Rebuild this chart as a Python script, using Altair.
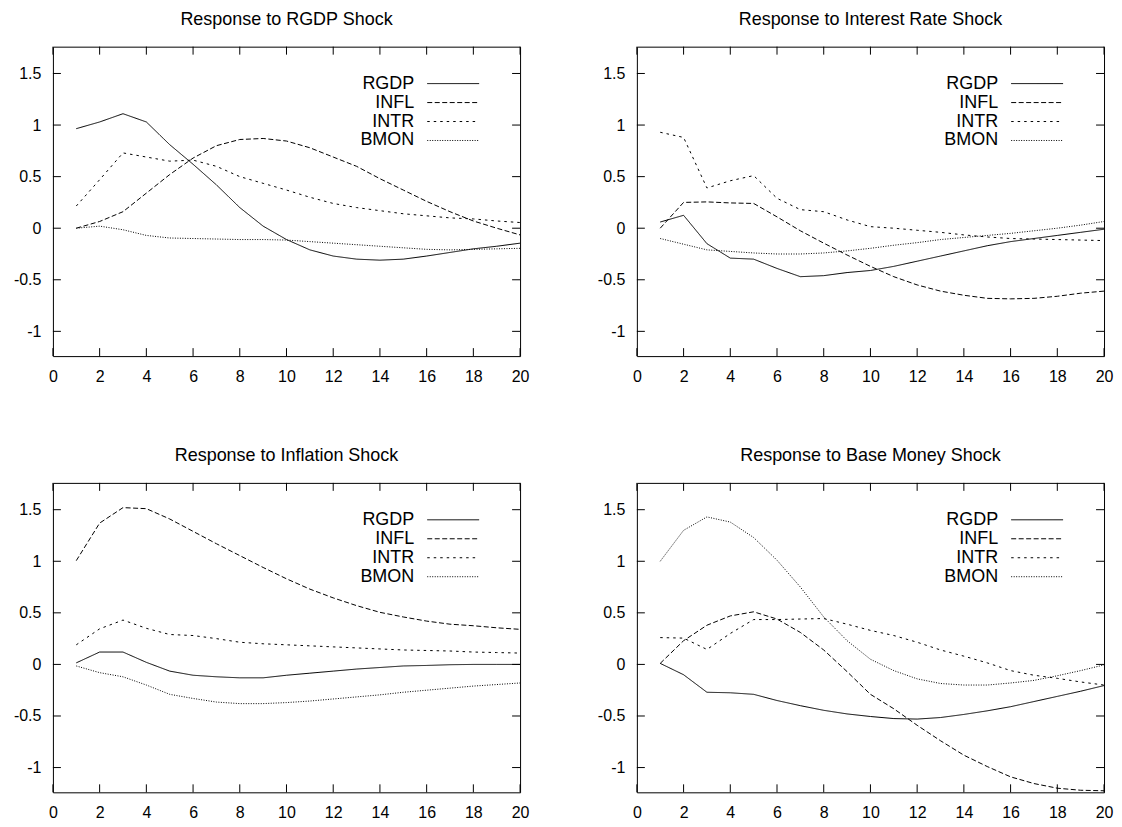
import altair as alt
import pandas as pd

# ---------------- data ----------------
periods = list(range(1, 21))
series_names = ["RGDP", "INFL", "INTR", "BMON"]
panel_titles = [
    "Response to RGDP Shock",
    "Response to Interest Rate Shock",
    "Response to Inflation Shock",
    "Response to Base Money Shock",
]
x_ticks = [0, 2, 4, 6, 8, 10, 12, 14, 16, 18, 20]
y_ticks = [-1, -0.5, 0, 0.5, 1, 1.5]

# Response to RGDP shock
rgdp_shock_rgdp = [0.965, 1.03, 1.11, 1.03, 0.81, 0.62, 0.42, 0.20, 0.02, -0.11,
                   -0.21, -0.27, -0.30, -0.31, -0.30, -0.27, -0.235, -0.20, -0.175, -0.145]
rgdp_shock_infl = [0.0, 0.065, 0.16, 0.34, 0.52, 0.68, 0.80, 0.86, 0.87, 0.845,
                   0.78, 0.69, 0.60, 0.48, 0.37, 0.26, 0.16, 0.07, 0.0, -0.065]
rgdp_shock_intr = [0.215, 0.47, 0.73, 0.69, 0.65, 0.66, 0.60, 0.50, 0.435, 0.37,
                   0.30, 0.24, 0.20, 0.17, 0.14, 0.12, 0.10, 0.09, 0.07, 0.055]
rgdp_shock_bmon = [0.0, 0.02, -0.015, -0.07, -0.095, -0.10, -0.105, -0.11, -0.11, -0.115,
                   -0.13, -0.145, -0.16, -0.175, -0.19, -0.205, -0.21, -0.205, -0.20, -0.195]

# Response to interest rate shock
intr_shock_rgdp = [0.06, 0.125, -0.15, -0.29, -0.30, -0.39, -0.47, -0.46, -0.43, -0.41,
                   -0.37, -0.32, -0.27, -0.22, -0.17, -0.13, -0.10, -0.07, -0.04, -0.01]
intr_shock_infl = [0.0, 0.25, 0.255, 0.245, 0.24, 0.11, -0.025, -0.145, -0.26, -0.37,
                   -0.47, -0.55, -0.61, -0.65, -0.68, -0.685, -0.68, -0.66, -0.63, -0.61]
intr_shock_intr = [0.93, 0.88, 0.39, 0.46, 0.51, 0.29, 0.18, 0.16, 0.08, 0.015,
                   0.0, -0.02, -0.04, -0.065, -0.085, -0.10, -0.105, -0.11, -0.115, -0.12]
intr_shock_bmon = [-0.10, -0.155, -0.21, -0.225, -0.24, -0.25, -0.25, -0.24, -0.22, -0.195,
                   -0.165, -0.14, -0.11, -0.09, -0.07, -0.05, -0.025, 0.0, 0.03, 0.065]

# Response to inflation shock
infl_shock_rgdp = [0.015, 0.12, 0.12, 0.02, -0.065, -0.105, -0.12, -0.13, -0.13, -0.105,
                   -0.085, -0.065, -0.045, -0.03, -0.015, -0.01, -0.003, 0.0, 0.0, 0.0]
infl_shock_infl = [1.006, 1.37, 1.52, 1.51, 1.41, 1.29, 1.17, 1.055, 0.94, 0.83,
                   0.73, 0.645, 0.57, 0.505, 0.46, 0.42, 0.39, 0.375, 0.355, 0.34]
infl_shock_intr = [0.19, 0.345, 0.43, 0.35, 0.29, 0.28, 0.25, 0.215, 0.20, 0.19,
                   0.18, 0.17, 0.16, 0.15, 0.14, 0.135, 0.13, 0.12, 0.115, 0.11]
infl_shock_bmon = [-0.015, -0.08, -0.12, -0.20, -0.29, -0.33, -0.365, -0.38, -0.38, -0.37,
                   -0.355, -0.335, -0.315, -0.295, -0.27, -0.25, -0.23, -0.21, -0.195, -0.18]

# Response to base money shock
bmon_shock_rgdp = [0.01, -0.10, -0.27, -0.275, -0.29, -0.35, -0.40, -0.445, -0.48, -0.505,
                   -0.525, -0.53, -0.515, -0.485, -0.45, -0.41, -0.36, -0.31, -0.26, -0.205]
bmon_shock_infl = [0.01, 0.23, 0.38, 0.47, 0.51, 0.44, 0.31, 0.14, -0.07, -0.29,
                   -0.43, -0.59, -0.74, -0.88, -0.99, -1.09, -1.155, -1.20, -1.22, -1.225]
bmon_shock_intr = [0.26, 0.255, 0.145, 0.30, 0.435, 0.435, 0.44, 0.445, 0.39, 0.33,
                   0.28, 0.215, 0.14, 0.08, 0.015, -0.06, -0.105, -0.135, -0.17, -0.20]
bmon_shock_bmon = [1.0, 1.30, 1.43, 1.38, 1.23, 1.01, 0.75, 0.46, 0.23, 0.05,
                   -0.06, -0.14, -0.185, -0.20, -0.20, -0.18, -0.155, -0.11, -0.06, -0.005]

panel_data = [
    [rgdp_shock_rgdp, rgdp_shock_infl, rgdp_shock_intr, rgdp_shock_bmon],
    [intr_shock_rgdp, intr_shock_infl, intr_shock_intr, intr_shock_bmon],
    [infl_shock_rgdp, infl_shock_infl, infl_shock_intr, infl_shock_bmon],
    [bmon_shock_rgdp, bmon_shock_infl, bmon_shock_intr, bmon_shock_bmon],
]

# ---------------- style / layout ----------------
W, H = 468, 310
FONT = "Liberation Sans"
dashes = [[1, 0], [5, 2.5], [2.5, 4], [1, 1.5]]
TICK = 8

x_scale = alt.Scale(domain=[0, 20], nice=False, zero=False)
y_scale = alt.Scale(domain=[-1.24, 1.76], nice=False, zero=False)
x_enc = alt.X("period:Q", scale=x_scale, title=None,
              axis=alt.Axis(values=x_ticks, labelPadding=12, labelFlush=False,
                            labelOverlap=False, labelExpr="'' + datum.value"))
y_enc = alt.Y("value:Q", scale=y_scale, title=None,
              axis=alt.Axis(values=y_ticks, labelPadding=12, labelFlush=False,
                            labelOverlap=False, labelExpr="'' + datum.value"))

xtick_df = pd.DataFrame({"period": x_ticks})
ytick_df = pd.DataFrame({"value": y_ticks})
legend_df = pd.DataFrame({"series": series_names})


def make_panel(title, responses):
    rows = []
    for name, vals in zip(series_names, responses):
        for p, v in zip(periods, vals):
            rows.append({"period": p, "value": v, "series": name})
    df = pd.DataFrame(rows)

    lines = alt.Chart(df).mark_line(color="black", strokeWidth=1).encode(
        x=x_enc,
        y=y_enc,
        strokeDash=alt.StrokeDash("series:N",
                                  scale=alt.Scale(domain=series_names, range=dashes),
                                  legend=None),
    )

    xt_bot = alt.Chart(xtick_df).mark_rule(color="black", strokeWidth=1).encode(
        x=x_enc, y=alt.value(H), y2=alt.value(H - TICK))
    xt_top = alt.Chart(xtick_df).mark_rule(color="black", strokeWidth=1).encode(
        x=x_enc, y=alt.value(0), y2=alt.value(TICK))
    yt_left = alt.Chart(ytick_df).mark_rule(color="black", strokeWidth=1).encode(
        y=y_enc, x=alt.value(0), x2=alt.value(TICK))
    yt_right = alt.Chart(ytick_df).mark_rule(color="black", strokeWidth=1).encode(
        y=y_enc, x=alt.value(W), x2=alt.value(W - TICK))

    layers = [lines, xt_bot, xt_top, yt_left, yt_right]

    for i, name in enumerate(series_names):
        ypix = 37 + 19 * i
        base = alt.Chart(legend_df).transform_filter(alt.datum.series == name)
        layers.append(base.mark_text(align="right", baseline="middle", fontSize=18,
                                     font=FONT, color="black").encode(
            x=alt.value(362), y=alt.value(ypix), text="series:N"))
        layers.append(base.mark_rule(color="black", strokeWidth=1,
                                     strokeDash=dashes[i]).encode(
            x=alt.value(375), x2=alt.value(427), y=alt.value(ypix)))

    return alt.layer(*layers).properties(
        width=W, height=H,
        title=alt.TitleParams(title, fontSize=18, font=FONT, fontWeight="normal",
                              color="black", anchor="middle", offset=17),
    )


panels = [make_panel(t, d) for t, d in zip(panel_titles, panel_data)]

chart = alt.vconcat(
    alt.hconcat(panels[0], panels[1], spacing=66),
    alt.hconcat(panels[2], panels[3], spacing=66),
    spacing=62,
).properties(
    padding={"left": 4, "top": 2, "right": 0, "bottom": 0},
).configure_view(
    stroke="black", strokeWidth=1
).configure_axis(
    labelFont=FONT, labelFontSize=16, labelColor="black",
    grid=False, domain=False, ticks=False, tickSize=0,
)

chart.save("out.html", embed_options={"renderer": "svg", "actions": False})
